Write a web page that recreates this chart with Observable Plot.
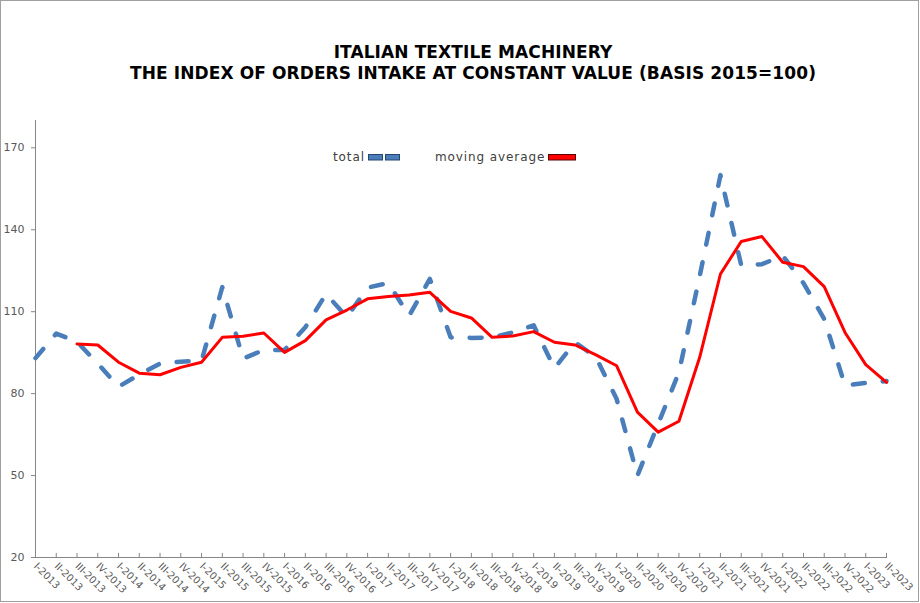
<!DOCTYPE html>
<html>
<head>
<meta charset="utf-8">
<script src="https://cdn.jsdelivr.net/npm/d3@7"></script>
<script src="https://cdn.jsdelivr.net/npm/@observablehq/plot@0.6"></script>
<style>
  html, body { margin: 0; padding: 0; background: #fff; }
  #wrap { position: relative; width: 920px; height: 603px; overflow: hidden; font-family: "DejaVu Sans", sans-serif; }
  #frame { position: absolute; left: 0; top: 0; width: 919px; height: 602px; box-sizing: border-box; border: 1px solid #a0a0a0; pointer-events: none; }
  #title { position: absolute; left: 0; top: 42px; width: 946px; text-align: center; font-weight: bold; font-size: 17px; line-height: 21px; color: #000; letter-spacing: 0.1px; }
  .leg { position: absolute; font-size: 12px; line-height: 16px; color: #404040; top: 149px; white-space: nowrap; letter-spacing: 0.9px; }
  .sw { position: absolute; }
  #chart { position: absolute; left: 0; top: 0; }
</style>
</head>
<body>
<div id="wrap">
  <div id="chart"></div>
  <div id="title">ITALIAN TEXTILE MACHINERY<br>THE INDEX OF ORDERS INTAKE AT CONSTANT VALUE (BASIS 2015=100)</div>
  <div class="leg" style="left:333px">total</div>
  <svg class="sw" style="left:366px;top:152px" width="36" height="10">
    <rect x="2.5" y="2.5" width="14" height="5.5" fill="#4a7ebb" stroke="#27476e" stroke-width="1"/>
    <rect x="19.5" y="2.5" width="14" height="5.5" fill="#4a7ebb" stroke="#27476e" stroke-width="1"/>
  </svg>
  <div class="leg" style="left:435px">moving average</div>
  <svg class="sw" style="left:546px;top:152px" width="32" height="10">
    <rect x="2.5" y="2.5" width="27" height="5.5" fill="#ff0000" stroke="#5a0000" stroke-width="1"/>
  </svg>
  <div id="frame"></div>
</div>
<script>
const categories = [
  "I-2013","II-2013","III-2013","IV-2013",
  "I-2014","II-2014","III-2014","IV-2014",
  "I-2015","II-2015","III-2015","IV-2015",
  "I-2016","II-2016","III-2016","IV-2016",
  "I-2017","II-2017","III-2017","IV-2017",
  "I-2018","II-2018","III-2018","IV-2018",
  "I-2019","II-2019","III-2019","IV-2019",
  "I-2020","II-2020","III-2020","IV-2020",
  "I-2021","II-2021","III-2021","IV-2021",
  "I-2022","II-2022","III-2022","IV-2022",
  "I-2023","II-2023"
];
const total = [
  93, 102, 99, 91,
  82.5, 87, 91, 91.7,
  92, 119, 92.8, 96,
  96, 104.3, 116.5, 108,
  118.8, 120.5, 108.5, 122,
  100.6, 100.4, 100.6, 102.4,
  105, 89.3, 98.8, 93.3,
  78, 50, 68.9, 87.8,
  123, 160, 127, 127.4,
  130.5, 120.5, 107.3, 83,
  83.9, 84.6
];
const movingAverage = [
  null, null, 98.2, 97.8,
  91.5, 87.5, 86.9, 89.6,
  91.5, 100.6, 101, 102.2,
  95.1, 99.4, 107, 110.6,
  114.7, 115.6, 116.1, 117.1,
  110.1, 107.7, 100.6, 101.1,
  102.7, 98.8, 97.8, 94.2,
  90.2, 73.2, 65.9, 69.9,
  93.3, 123.8, 135.7, 137.5,
  128.1, 126.5, 119.2, 102.4,
  90.6, 84.1
];
const yTicks = [20, 50, 80, 110, 140, 170];

const rows = categories.map((c, i) => ({quarter: c, total: total[i], ma: movingAverage[i]}));

const chart = Plot.plot({
  width: 920,
  height: 603,
  marginLeft: 35,
  marginRight: 34,
  marginTop: 120,
  marginBottom: 46,
  style: {fontFamily: "DejaVu Sans, sans-serif", background: "transparent", overflow: "visible"},
  x: {type: "point", domain: categories, padding: 0, label: null},
  y: {domain: [20, 180], label: null},
  marks: [
    Plot.frame({anchor: "left", stroke: "#868686"}),
    Plot.frame({anchor: "bottom", stroke: "#868686"}),
    Plot.ruleX(categories, {x: d => d, y1: 20, y2: 21.5, stroke: "#868686"}),
    Plot.axisY({ticks: yTicks, tickSize: 4, text: null, stroke: "#868686", label: null}),
    Plot.axisY({ticks: yTicks, tickSize: 0, tickPadding: 11, fontSize: 11, fill: "#595959", label: null}),
    Plot.axisX({tickSize: 0, tickRotate: 45, tickPadding: 7, fontSize: 10, fill: "#595959", label: null}),
    Plot.line(rows, {x: "quarter", y: "total", stroke: "#4a7ebb", strokeWidth: 4.5, strokeDasharray: "12,18", strokeLinecap: "round", strokeLinejoin: "round"}),
    Plot.line(rows, {x: "quarter", y: "ma", stroke: "#ff0000", strokeWidth: 3, strokeLinejoin: "round"})
  ]
});
document.getElementById("chart").appendChild(chart);
</script>
</body>
</html>
